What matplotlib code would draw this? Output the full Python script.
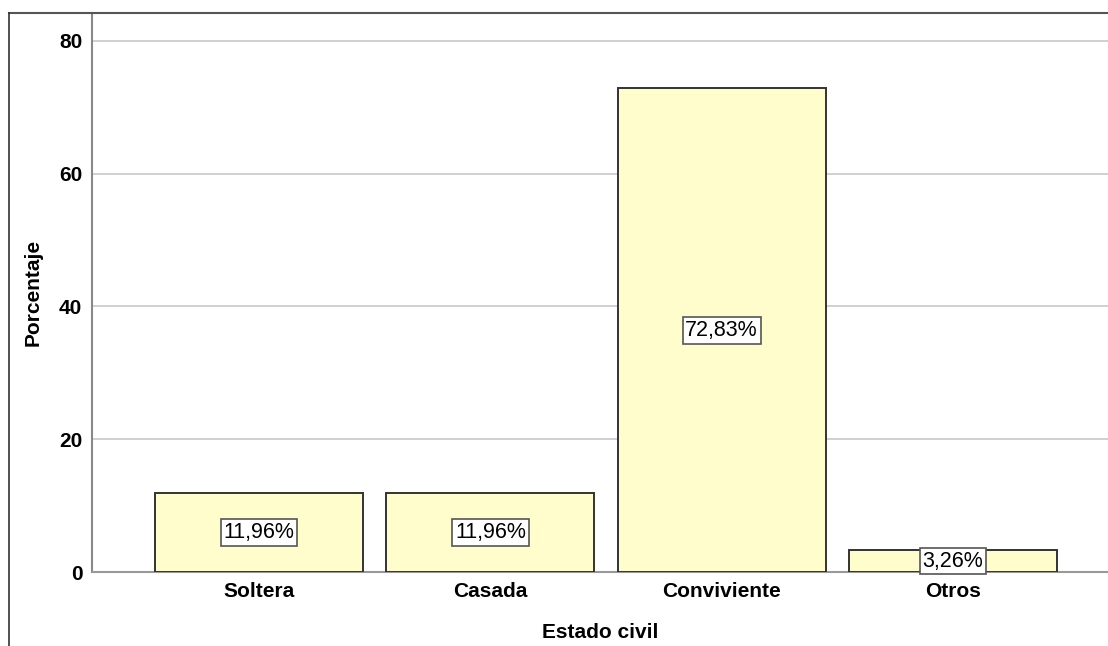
import matplotlib
matplotlib.use("Agg")
import matplotlib.pyplot as plt
from matplotlib.lines import Line2D

categories = ["Soltera", "Casada", "Conviviente", "Otros"]
percentages = [11.96, 11.96, 72.83, 3.26]
y_ticks = [0, 20, 40, 60, 80]

plt.rcParams['font.family'] = ['Liberation Sans', 'DejaVu Sans']

W, H = 1108, 646
fig = plt.figure(figsize=(W / 100, H / 100), dpi=100)

# axes: left 92px, right 1108px, top 13px, bottom 572px
ax = fig.add_axes([92 / W, 1 - 572 / H, (W - 92) / W, (572 - 13) / H])

x = list(range(len(categories)))
ax.bar(x, percentages, width=0.9, color="#FEFDCB", edgecolor="#333333",
       linewidth=1.4, zorder=3)

for xi, v in zip(x, percentages):
    ax.text(xi, v / 2, f"{v:.2f}%".replace(".", ","), ha="center", va="center",
            fontsize=15.5, color="black", zorder=5,
            bbox=dict(boxstyle="square,pad=0.13", facecolor="white",
                      edgecolor="#555555", linewidth=1.2))

ax.set_xlim(-0.722, 3.67)
ax.set_ylim(0, 84.2)
ax.set_yticks(y_ticks)
ax.set_xticks(x)
ax.set_xticklabels(categories, fontsize=15, fontweight="bold")
for lbl in ax.get_yticklabels():
    lbl.set_fontweight("bold")
ax.tick_params(axis="y", labelsize=15, length=0, pad=7)
ax.tick_params(axis="x", length=0, pad=7)
ax.yaxis.grid(True, color="#C8C8C8", linewidth=1.2, zorder=0)
ax.set_axisbelow(True)

for s in ["top", "right"]:
    ax.spines[s].set_visible(False)
ax.spines["left"].set_color("#888888")
ax.spines["left"].set_linewidth(1.5)
ax.spines["bottom"].set_color("#999999")
ax.spines["bottom"].set_linewidth(1.5)

ax.set_ylabel("Porcentaje", fontsize=15, fontweight="bold", labelpad=12)
ax.set_xlabel("Estado civil", fontsize=15, fontweight="bold", labelpad=16)

# outer frame (top and left)
fig.add_artist(Line2D([9 / W, 1.0], [1 - 13 / H, 1 - 13 / H], color="#555555",
                      linewidth=1.5, transform=fig.transFigure))
fig.add_artist(Line2D([9 / W, 9 / W], [0, 1 - 13 / H], color="#333333",
                      linewidth=1.2, transform=fig.transFigure))

fig.savefig("out.png", dpi=100)
